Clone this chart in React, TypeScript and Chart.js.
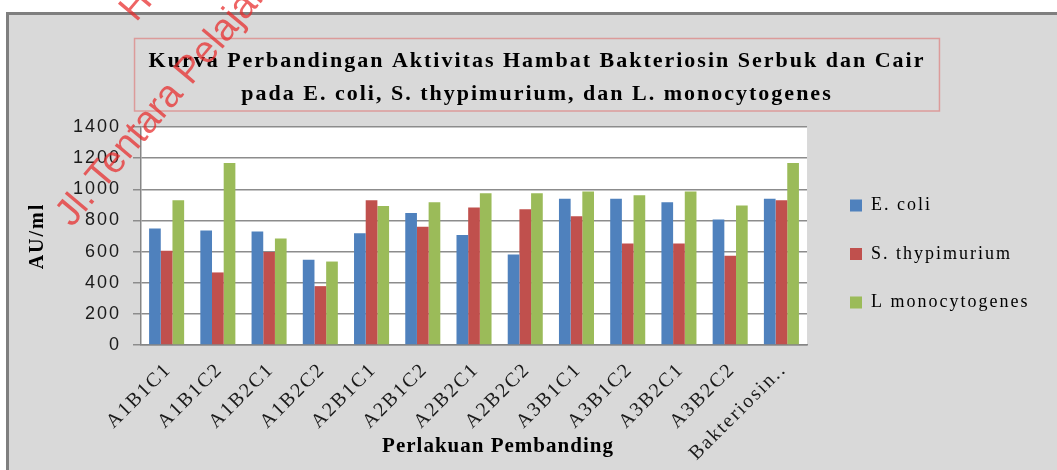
import React, { useEffect, useRef } from "react";
import { Chart, registerables } from "chart.js";

Chart.register(...registerables);

const categories = [
  "A1B1C1", "A1B1C2", "A1B2C1", "A1B2C2", "A2B1C1", "A2B1C2", "A2B2C1",
  "A2B2C2", "A3B1C1", "A3B1C2", "A3B2C1", "A3B2C2", "Bakteriosin..",
];
const eColi = [748, 735, 729, 547, 718, 848, 707, 581, 940, 940, 917, 806, 940];
const sThypimurium = [605, 466, 598, 378, 930, 759, 883, 872, 827, 652, 652, 573, 930];
const lMonocytogenes = [930, 1169, 684, 536, 893, 917, 975, 975, 985, 962, 985, 896, 1169];
const seriesNames = ["E. coli", "S. thypimurium", "L monocytogenes"];
const seriesColors = ["#4f81bd", "#c0504d", "#9bbb59"];
const titleLines = [
  "Kurva Perbandingan Aktivitas Hambat Bakteriosin Serbuk dan Cair",
  "pada E. coli, S. thypimurium, dan L. monocytogenes",
];
const yTitle = "AU/ml";
const xTitle = "Perlakuan Pembanding";
const yMin = 0;
const yMax = 1400;
const yStep = 200;

const SERIF = "'Liberation Serif', 'Times New Roman', serif";
const SANS = "'Liberation Sans', Arial, sans-serif";

export default function App() {
  const ref = useRef<HTMLCanvasElement | null>(null);

  useEffect(() => {
    const canvas = ref.current;
    if (!canvas) return;

    const helper = {
      id: "helper",
      beforeUpdate(chart: any) {
        chart.ctx.letterSpacing = "2px";
      },
      afterLayout(chart: any) {
        const lg = chart.legend;
        if (lg) {
          const d = 850 - (lg.left + 30.5);
          lg.left += d;
          lg.right += d;
        }
        const tb = chart.titleBlock;
        if (tb) {
          const d = 537 - (tb.left + tb.right) / 2;
          tb.left += d;
          tb.right += d;
        }
      },
      beforeDraw(chart: any) {
        const { ctx, chartArea } = chart;
        ctx.letterSpacing = "2px";
        ctx.save();
        ctx.fillStyle = "#ffffff";
        ctx.fillRect(
          chartArea.left,
          chartArea.top,
          chartArea.right - chartArea.left,
          chartArea.bottom - chartArea.top
        );
        const tb = chart.titleBlock;
        if (tb) {
          ctx.font = `bold 22px ${SERIF}`;
          const w = Math.max(...titleLines.map((t) => ctx.measureText(t).width));
          const cx = (tb.left + tb.right) / 2;
          ctx.strokeStyle = "#dc9b9a";
          ctx.lineWidth = 1.5;
          ctx.strokeRect(cx - w / 2 - 14, tb.top + 0.5, w + 28, 72.5);
        }
        ctx.restore();
      },
      afterDraw(chart: any) {
        const { ctx } = chart;
        ctx.save();
        ctx.letterSpacing = "1px";
        ctx.font = `bold 21px ${SERIF}`;
        ctx.fillStyle = "#000000";
        ctx.textAlign = "center";
        ctx.textBaseline = "middle";
        ctx.fillText(xTitle, 498, 447);
        ctx.restore();
      },
    };

    const chart = new Chart(canvas, {
      type: "bar",
      data: {
        labels: categories,
        datasets: [eColi, sThypimurium, lMonocytogenes].map((d, i) => ({
          label: seriesNames[i],
          data: d,
          backgroundColor: seriesColors[i],
          borderColor: seriesColors[i],
          borderWidth: 0,
          categoryPercentage: 0.684,
          barPercentage: 1,
        })),
      },
      options: {
        responsive: false,
        animation: false,
        devicePixelRatio: 1,
        layout: { padding: { left: 20, right: 30, top: 38, bottom: 0 } },
        plugins: {
          tooltip: { enabled: false },
          title: {
            display: true,
            text: titleLines,
            color: "#000000",
            font: { family: SERIF, size: 22, weight: "bold", lineHeight: 1.5 },
            padding: { top: 6.5, bottom: 16.5 },
          },
          legend: {
            position: "right",
            align: "center",
            labels: {
              boxWidth: 12,
              boxHeight: 12,
              padding: 30.5,
              color: "#000000",
              font: { family: SERIF, size: 18 },
            },
          },
        },
        scales: {
          x: {
            grid: { display: false },
            border: { display: true, color: "#868686", width: 1.5 },
            ticks: {
              autoSkip: false,
              minRotation: 45,
              maxRotation: 45,
              padding: 5,
              labelOffset: 2,
              color: "#1a1a1a",
              font: { family: SERIF, size: 20 },
            },
            afterFit: (s: any) => {
              s.height = 125;
            },
          },
          y: {
            min: yMin,
            max: yMax,
            ticks: {
              stepSize: yStep,
              padding: 12,
              color: "#1a1a1a",
              font: { family: SANS, size: 18 },
              callback: (v: any) => String(v),
            },
            grid: { color: "#8c8c8c", lineWidth: 1.5, tickLength: 8 },
            border: { color: "#868686", width: 1.5 },
            title: {
              display: true,
              text: yTitle,
              color: "#000000",
              font: { family: SERIF, size: 20, weight: "bold" },
              padding: { top: 6, bottom: 0 },
            },
            afterFit: (s: any) => {
              s.width = 121;
            },
          },
        },
      },
      plugins: [helper],
    } as any);

    return () => chart.destroy();
  }, []);

  const wm: React.CSSProperties = {
    position: "absolute",
    fontFamily: SANS,
    fontSize: 38,
    lineHeight: "38px",
    whiteSpace: "nowrap",
    color: "rgba(232, 40, 40, 0.72)",
    transformOrigin: "0px 32px",
    transform: "rotate(-50deg)",
    pointerEvents: "none",
  };

  return (
    <div
      style={{
        position: "fixed",
        left: 0,
        top: 0,
        width: 1057,
        height: 470,
        overflow: "hidden",
        background: "#ffffff",
      }}
    >
      <div
        style={{
          position: "absolute",
          left: 6,
          top: 12,
          width: 1120,
          height: 540,
          boxSizing: "border-box",
          background: "#d9d9d9",
          border: "3px solid #7f7f7f",
        }}
      />
      <canvas
        ref={ref}
        width={1057}
        height={470}
        style={{ position: "absolute", left: 0, top: 0, width: 1057, height: 470 }}
      />
      <div style={{ ...wm, left: 136, top: 23 - 32 }}>Hak</div>
      <div style={{ ...wm, left: 72, top: 228 - 32 }}>Jl. Tentara Pelajar</div>
    </div>
  );
}
